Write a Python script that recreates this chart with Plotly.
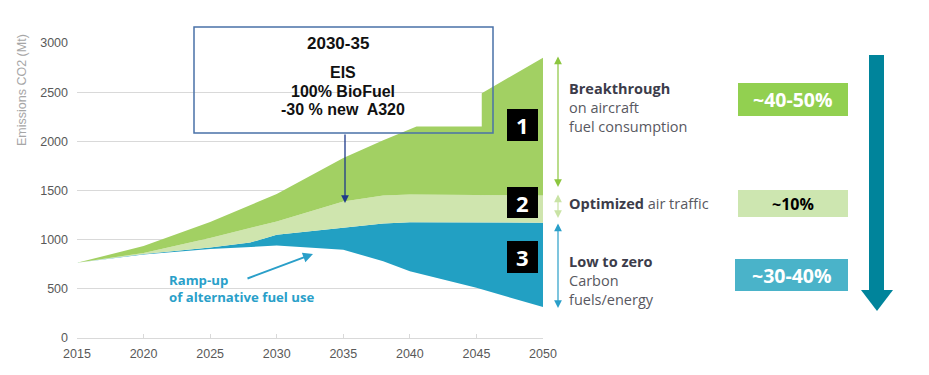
import plotly.graph_objects as go

# ---------------- data ----------------
years = [2015, 2020, 2025, 2028, 2030, 2035, 2038, 2040, 2045, 2050]
net_emissions = [765, 850, 905, 926, 940, 898, 780, 680, 510, 315]          # after alternative fuels
after_traffic = [765, 855, 920, 970, 1050, 1118, 1165, 1178, 1178, 1172]     # after optimized traffic
after_breakthrough = [765, 865, 1017, 1115, 1186, 1389, 1450, 1460, 1455, 1450]

years_total = [2015, 2020, 2025, 2030, 2035, 2038, 2040.5, 2045.4, 2045.4, 2050]
total_emissions = [765, 935, 1180, 1465, 1830, 2010, 2150, 2150, 2490, 2850]

x_ticks = [2015, 2020, 2025, 2030, 2035, 2040, 2045, 2050]
y_ticks = [0, 500, 1000, 1500, 2000, 2500, 3000]

box_title = "2030-35"
box_lines = ["EIS", "100% BioFuel", "-30 % new  A320"]
levers = ["1", "2", "3"]
pct_labels = ["~40-50%", "~10%", "~30-40%"]

# ---------------- styling ----------------
C_DARK = "#a2d063"
C_LIGHT = "#cfe5ae"
C_BLUE = "#22a0c3"
W, H = 929, 375
L, R, T, B = 77, 543, 43, 338


def px(x):
    return (x - L) / (R - L)


def py(y):
    return (B - y) / (B - T)


def note(x, y, text, size, color, family, xanchor="center", **kw):
    return dict(x=px(x), y=py(y), xref="paper", yref="paper", text=text, showarrow=False,
                xanchor=xanchor, yanchor="middle", font=dict(family=family, size=size, color=color), **kw)


def arrow(x, y, ax, ay, color, width, **kw):
    # tip at (x, y) in pixels, tail at (ax, ay) in pixels
    return dict(x=px(x), y=py(y), xref="paper", yref="paper", ax=ax - x, ay=ay - y, axref="pixel",
                ayref="pixel", text="", showarrow=True, arrowcolor=color, arrowwidth=width,
                xanchor="center", yanchor="middle", **kw)


fig = go.Figure()
fig.add_trace(go.Scatter(x=years, y=net_emissions, mode="lines", line=dict(width=0, color=C_BLUE),
                         hoverinfo="skip", showlegend=False))
fig.add_trace(go.Scatter(x=years, y=after_traffic, mode="lines", fill="tonexty", fillcolor=C_BLUE,
                         line=dict(width=0, color=C_BLUE), showlegend=False))
fig.add_trace(go.Scatter(x=years, y=after_breakthrough, mode="lines", fill="tonexty", fillcolor=C_LIGHT,
                         line=dict(width=0, color=C_LIGHT), showlegend=False))
fig.add_trace(go.Scatter(x=years_total, y=total_emissions, mode="lines", fill="tonexty", fillcolor=C_DARK,
                         line=dict(width=0, color=C_DARK), showlegend=False))

shapes = []
annotations = []

# white patch (covers a gridline in the original)
shapes.append(dict(type="rect", xref="paper", yref="paper", x0=px(214), x1=px(481), y0=py(128), y1=py(50),
                   fillcolor="white", line=dict(width=0), layer="between"))
# text box frame
shapes.append(dict(type="rect", xref="paper", yref="paper", x0=px(194), x1=px(493), y0=py(133), y1=py(27),
                   fillcolor="rgba(0,0,0,0)", line=dict(color="#4a72a8", width=1.5), layer="above"))

FB = "Liberation Sans"
annotations.append(note(338, 43, "<b>%s</b>" % box_title, 17, "#111", FB))
for i, t in enumerate(box_lines):
    annotations.append(note(343, 73 + 18.5 * i, "<b>%s</b>" % t, 16, "#111", FB))
# arrow from box to chart
annotations.append(arrow(345, 203, 345, 133, "#1e3a8a", 1.3, arrowhead=2, arrowsize=1.2))

# numbered black boxes
num_y = [(109, 141), (187, 218), (241, 273)]
for n, (y0, y1) in zip(levers, num_y):
    shapes.append(dict(type="rect", xref="paper", yref="paper", x0=px(507), x1=px(538), y0=py(y1), y1=py(y0),
                       fillcolor="black", line=dict(width=0), layer="above"))
    annotations.append(note(522.5, (y0 + y1) / 2, "<b>%s</b>" % n, 22, "white", "Open Sans"))

# vertical double arrows
for (y0, y1, col) in [(55, 187, "#8cc63f"), (193, 218, "#c9e3a5"), (222, 308, "#2a9fc9")]:
    annotations.append(arrow(558, y1, 558, y0, col, 1.2, arrowside="end+start", arrowhead=2,
                             startarrowhead=2, arrowsize=1.3, startarrowsize=1.3))

FR = "Open Sans"
TC = "#3c3c4a"
TG = "#58585f"
right_texts = [
    (108, "<b><span style='color:%s'>Breakthrough</span></b><br>on aircraft<br>fuel consumption" % TC),
    (203, "<b><span style='color:%s'>Optimized</span></b> air traffic" % TC),
    (280, "<b><span style='color:%s'>Low to zero</span></b><br>Carbon<br>fuels/energy" % TC),
]
for y, t in right_texts:
    annotations.append(note(567, y, t, 14.5, TG, FR, xanchor="left", align="left"))

# percentage boxes
pct_boxes = [(738, 848, 83, 116, "#92d050", "white", 19.5),
             (738, 848, 190, 217, "#cde6b0", "black", 16),
             (735, 848, 259, 291, "#4ab3c9", "white", 19.5)]
for lab, (x0, x1, y0, y1, fc, tc, fs) in zip(pct_labels, pct_boxes):
    shapes.append(dict(type="rect", xref="paper", yref="paper", x0=px(x0), x1=px(x1), y0=py(y1), y1=py(y0),
                       fillcolor=fc, line=dict(width=0), layer="below"))
    annotations.append(note((x0 + x1) / 2, (y0 + y1) / 2, "<b>%s</b>" % lab, fs, tc, FR))

# big teal arrow
shapes.append(dict(type="rect", xref="paper", yref="paper", x0=px(869), x1=px(884), y0=py(292), y1=py(55),
                   fillcolor="#00849b", line=dict(width=0), layer="above"))
shapes.append(dict(type="path", xref="paper", yref="paper",
                   path="M %f,%f L %f,%f L %f,%f Z" % (px(861), py(290), px(893), py(290), px(877), py(311)),
                   fillcolor="#00849b", line=dict(width=0), layer="above"))

# ramp-up annotation
annotations.append(note(167, 288, "<b>Ramp-up<br>of alternative fuel use</b>", 13.2, "#2a9fc9", FR,
                        xanchor="left", align="left"))
annotations.append(arrow(313, 254, 246, 279, "#2a9fc9", 2, arrowhead=2, arrowsize=1))

# y axis title
annotations.append(note(22, 90, "Emissions CO2 (Mt)", 12.5, "#a6a6a6", FB, textangle=-90))

fig.update_layout(
    width=W, height=H, margin=dict(l=L, r=W - R, t=T, b=H - B, autoexpand=False),
    plot_bgcolor="white", paper_bgcolor="white", showlegend=False,
    shapes=shapes, annotations=annotations,
    xaxis=dict(range=[2015, 2050], tickvals=x_ticks, showgrid=False, zeroline=False, showline=True,
               linecolor="#d9d9d9", linewidth=1, ticks="inside", ticklen=4, tickcolor="#d9d9d9",
               ticklabelstandoff=4, tickfont=dict(family=FB, size=12.5, color="#595959")),
    yaxis=dict(range=[0, 3000], tickvals=y_ticks, showgrid=True, gridcolor="#d9d9d9", gridwidth=1,
               zeroline=False, showline=False, ticks="", ticklabelstandoff=8,
               tickfont=dict(family=FB, size=12.5, color="#595959")),
)

fig.write_html("out.html", config={"displayModeBar": False},
               post_script="document.body.style.margin='0px';")
